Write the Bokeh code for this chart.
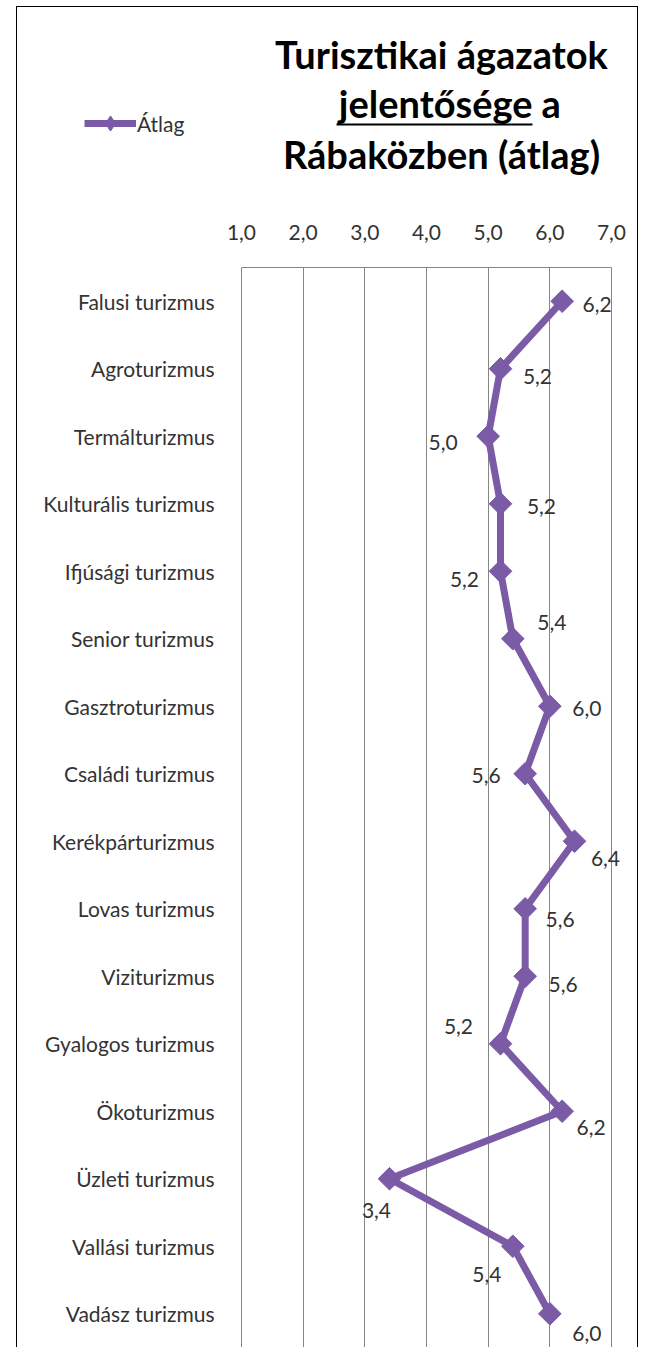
import math
import numpy as np
from bokeh.plotting import figure
from bokeh.layouts import column
from bokeh.models import (ColumnDataSource, FactorRange, Range1d, FixedTicker,
                          LabelSet, Legend, LegendItem, Span)
from bokeh.core.properties import value
from bokeh.embed import file_html
from bokeh.resources import INLINE

# ---- data ----
categories = ["Falusi turizmus", "Agroturizmus", "Termálturizmus", "Kulturális turizmus",
              "Ifjúsági turizmus", "Senior turizmus", "Gasztroturizmus", "Családi turizmus",
              "Kerékpárturizmus", "Lovas turizmus", "Viziturizmus", "Gyalogos turizmus",
              "Ökoturizmus", "Üzleti turizmus", "Vallási turizmus", "Vadász turizmus"]
atlag = [6.2, 5.2, 5.0, 5.2, 5.2, 5.4, 6.0, 5.6, 6.4, 5.6, 5.6, 5.2, 6.2, 3.4, 5.4, 6.0]
value_labels = ["6,2", "5,2", "5,0", "5,2", "5,2", "5,4", "6,0", "5,6",
                "6,4", "5,6", "5,6", "5,2", "6,2", "3,4", "5,4", "6,0"]
tick_values = [1, 2, 3, 4, 5, 6, 7]
tick_labels = ["1,0", "2,0", "3,0", "4,0", "5,0", "6,0", "7,0"]
series_name = "Átlag"
title_line1 = "Turisztikai ágazatok"
title_line2a = "jelentősége"
title_line2b = "a"
title_line3 = "Rábaközben (átlag)"

# ---- label placement (screen px, style only) ----
label_dx = [35, 37, -45, 41, -36, 39, 37, -39, 31, 35, 38, -42, 29, -13, -26, 37]
label_dy = [-3, -8, -6, -3, -8, 16, -2, -2, -17, -11, -8, 17, -16, -32, -28, -20]

PURPLE = "#7b5ba6"
TXT = "#333333"
GRID = "#868686"
FONT = "Lato"

# ---- geometry (page px) ----
X0, Y0 = 17, 7          # inside of border
INNER_W = 620
TOP_H = 180
MAIN_H = 1160
AX_L, AX_R = 241, 611   # page x of value 1 and value 7
FRAME_L = 238           # frame starts a little left of value 1
FRAME_R = 630           # frame extends a bit right so value labels are not clipped
BASE_SHIFT = 15         # svg alphabetic-baseline correction
LEG_GH = 38             # legend glyph box height (sets legend marker size)

# ---------------- header figure (title + legend) ----------------
top = figure(width=INNER_W, height=TOP_H, output_backend="svg", toolbar_location=None,
             x_range=Range1d(X0, X0 + INNER_W), y_range=Range1d(Y0 + TOP_H, Y0),
             min_border=0, x_axis_type=None, y_axis_type=None)
top.frame_align = False
top.grid.visible = False
top.outline_line_color = None
top.background_fill_color = "white"
top.border_fill_color = "white"

title_src = ColumnDataSource(dict(x=[441, 532, 541, 441],
                                  y=[68 - BASE_SHIFT, 117 - BASE_SHIFT,
                                     117 - BASE_SHIFT, 168 - BASE_SHIFT],
                                  t=[title_line1, title_line2a, title_line2b, title_line3],
                                  a=["center", "right", "left", "center"]))
top.text(x="x", y="y", text="t", source=title_src, text_align="a",
         text_baseline="alphabetic", text_font=value(FONT), text_font_style="bold",
         text_font_size="38px", text_color="black")
top.segment(x0=[336], y0=[124], x1=[532], y1=[124], line_color="black", line_width=2)

# legend proxy renderers (NaN data: nothing drawn, only their look is used by the legend)
nan_src = ColumnDataSource(dict(x=np.array([np.nan]), y=np.array([np.nan])))
lg_line = top.line(x="x", y="y", source=nan_src, line_color=PURPLE, line_width=7)
lg_mark = top.scatter(x="x", y="y", source=nan_src, marker="diamond", size=17,
                      fill_color=PURPLE, line_color=PURPLE)
leg = Legend(items=[LegendItem(label=series_name, renderers=[lg_line, lg_mark])],
             location=(84 - X0, Y0 + TOP_H - (123 + LEG_GH // 2)), padding=0, margin=0,
             border_line_color=None, background_fill_alpha=0, glyph_width=52,
             glyph_height=LEG_GH, label_standoff=1, label_text_font=FONT,
             label_text_font_size="21px", label_text_color=TXT,
             label_text_baseline="middle", label_height=LEG_GH)
top.add_layout(leg, "center")

# ---------------- main chart ----------------
px_per_unit = (AX_R - AX_L) / 6
x_start = 1 - (AX_L - FRAME_L) / px_per_unit
x_end = 7 + (FRAME_R - AX_R) / px_per_unit
p = figure(width=INNER_W, height=MAIN_H, output_backend="svg", toolbar_location=None,
           x_range=Range1d(x_start, x_end),
           y_range=FactorRange(factors=list(reversed(categories))),
           x_axis_location="above", min_border_left=FRAME_L - X0,
           min_border_right=INNER_W - (FRAME_R - X0), min_border_top=267 - (Y0 + TOP_H),
           min_border_bottom=0)
p.frame_align = False
p.background_fill_color = "white"
p.border_fill_color = "white"
p.outline_line_color = None

xa = p.xaxis[0]
xa.ticker = FixedTicker(ticks=tick_values)
xa.bounds = (tick_values[0], tick_values[-1])
xa.major_label_overrides = {v: l for v, l in zip(tick_values, tick_labels)}
xa.axis_line_color = GRID
xa.axis_line_width = 1
xa.major_tick_line_color = None
xa.minor_tick_line_color = None
xa.major_label_text_font = FONT
xa.major_label_text_font_size = "21px"
xa.major_label_text_color = TXT
xa.major_label_standoff = 22

ya = p.yaxis[0]
ya.axis_line_color = None
ya.major_tick_line_color = None
ya.minor_tick_line_color = None
ya.major_label_text_font = FONT
ya.major_label_text_font_size = "21px"
ya.major_label_text_color = TXT
ya.major_label_standoff = 18

p.xgrid.grid_line_color = GRID
p.xgrid.grid_line_width = 1
p.ygrid.grid_line_color = None
# the grid skips its end ticks; draw the two boundary lines explicitly
edge_vals = [tick_values[0], tick_values[-1]]
if hasattr(p, "vspan"):
    p.vspan(x=edge_vals, line_color=GRID, line_width=1)
for v in edge_vals:
    p.add_layout(Span(location=v, dimension="height", line_color=GRID, line_width=1))

src = ColumnDataSource(dict(cat=categories, val=atlag, lab=value_labels,
                            dx=label_dx, dy=label_dy))
p.line(x="val", y="cat", source=src, line_color=PURPLE, line_width=7, line_join="round")
p.scatter(x="val", y="cat", source=src, marker="square", angle=math.pi / 4,
          size=16, fill_color=PURPLE, line_color=PURPLE)

labels = LabelSet(x="val", y="cat", text="lab", source=src, x_offset="dx", y_offset="dy",
                  text_align="center", text_baseline="middle", text_font=value(FONT),
                  text_font_size="21px", text_color=TXT)
p.add_layout(labels)

layout = column(top, p, spacing=0, margin=(6, 0, 0, 16),
                styles={"border": "1.5px solid black", "border-bottom": "none"})

open("out.html", "w").write(file_html(layout, INLINE))
